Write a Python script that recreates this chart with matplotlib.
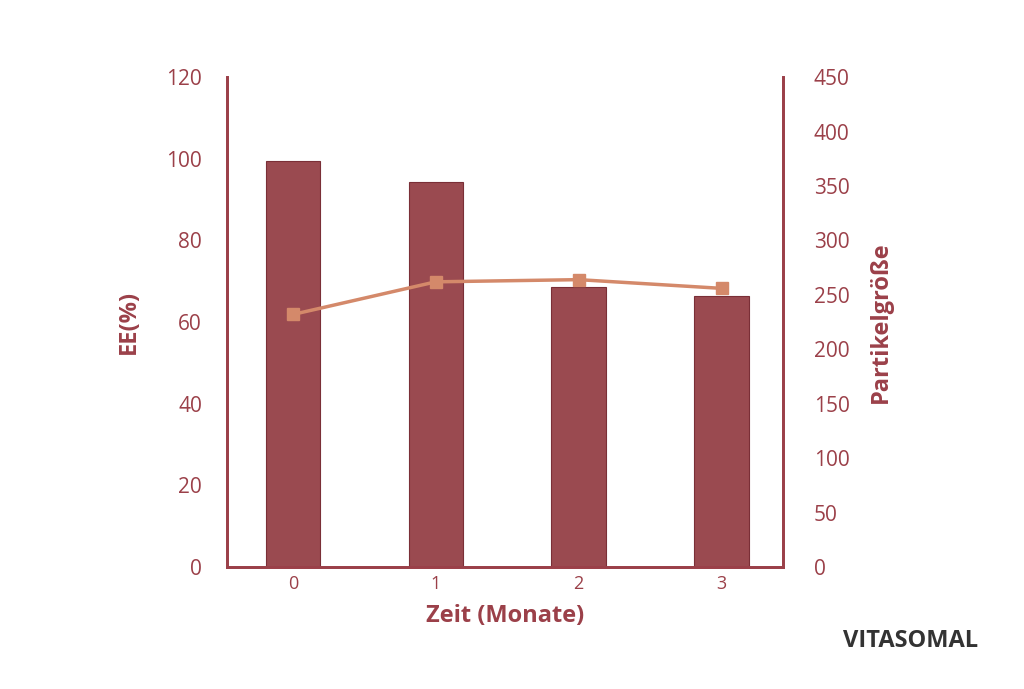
import matplotlib
matplotlib.use("Agg")
import matplotlib.pyplot as plt

months = ["0", "1", "2", "3"]
ee = [99.5, 94.3, 68.6, 66.4]
size = [232, 262, 264, 256]

red = "#9B4049"
bar_c = "#9A4A50"
line_c = "#D4896A"
plt.rcParams['font.family'] = ['Open Sans', 'DejaVu Sans']

fig = plt.figure(figsize=(10.24, 6.89), dpi=100)
ax = fig.add_axes([0.2217, 0.177, 0.543, 0.711])
x = list(range(len(months)))
ax.bar(x, ee, width=0.38, color=bar_c, edgecolor="#7a2f37", linewidth=0.8)
ax.set_ylim(0, 120)
ax.set_yticks(range(0, 121, 20))
ax.set_xlim(-0.46, 3.43)
ax.set_xticks(x)
ax.set_xticklabels(months)
ax2 = ax.twinx()
ax2.plot(x, size, color=line_c, marker="s", markersize=9, linewidth=2.5)
ax2.set_ylim(0, 450)
ax2.set_yticks(range(0, 451, 50))

for a in (ax, ax2):
    for s in a.spines.values():
        s.set_color(red); s.set_linewidth(2)
    a.spines['top'].set_visible(False)
    a.tick_params(length=0, colors=red, labelsize=15, pad=10)
ax.tick_params(axis='x', labelsize=13, pad=6)
ax.tick_params(axis='y', pad=18)
ax2.tick_params(axis='y', pad=22)
ax.set_ylabel("EE(%)", color=red, fontsize=17, fontweight='bold', labelpad=18)
ax2.set_ylabel("Partikelgröße", color=red, fontsize=17, fontweight='bold', labelpad=14)
ax.set_xlabel("Zeit (Monate)", color=red, fontsize=17, fontweight='bold', labelpad=8)
fig.text(0.955, 0.07, "VITASOMAL", ha='right', va='center', fontsize=17,
         fontweight='bold', color="#333333")
fig.savefig("out.png", dpi=100)
